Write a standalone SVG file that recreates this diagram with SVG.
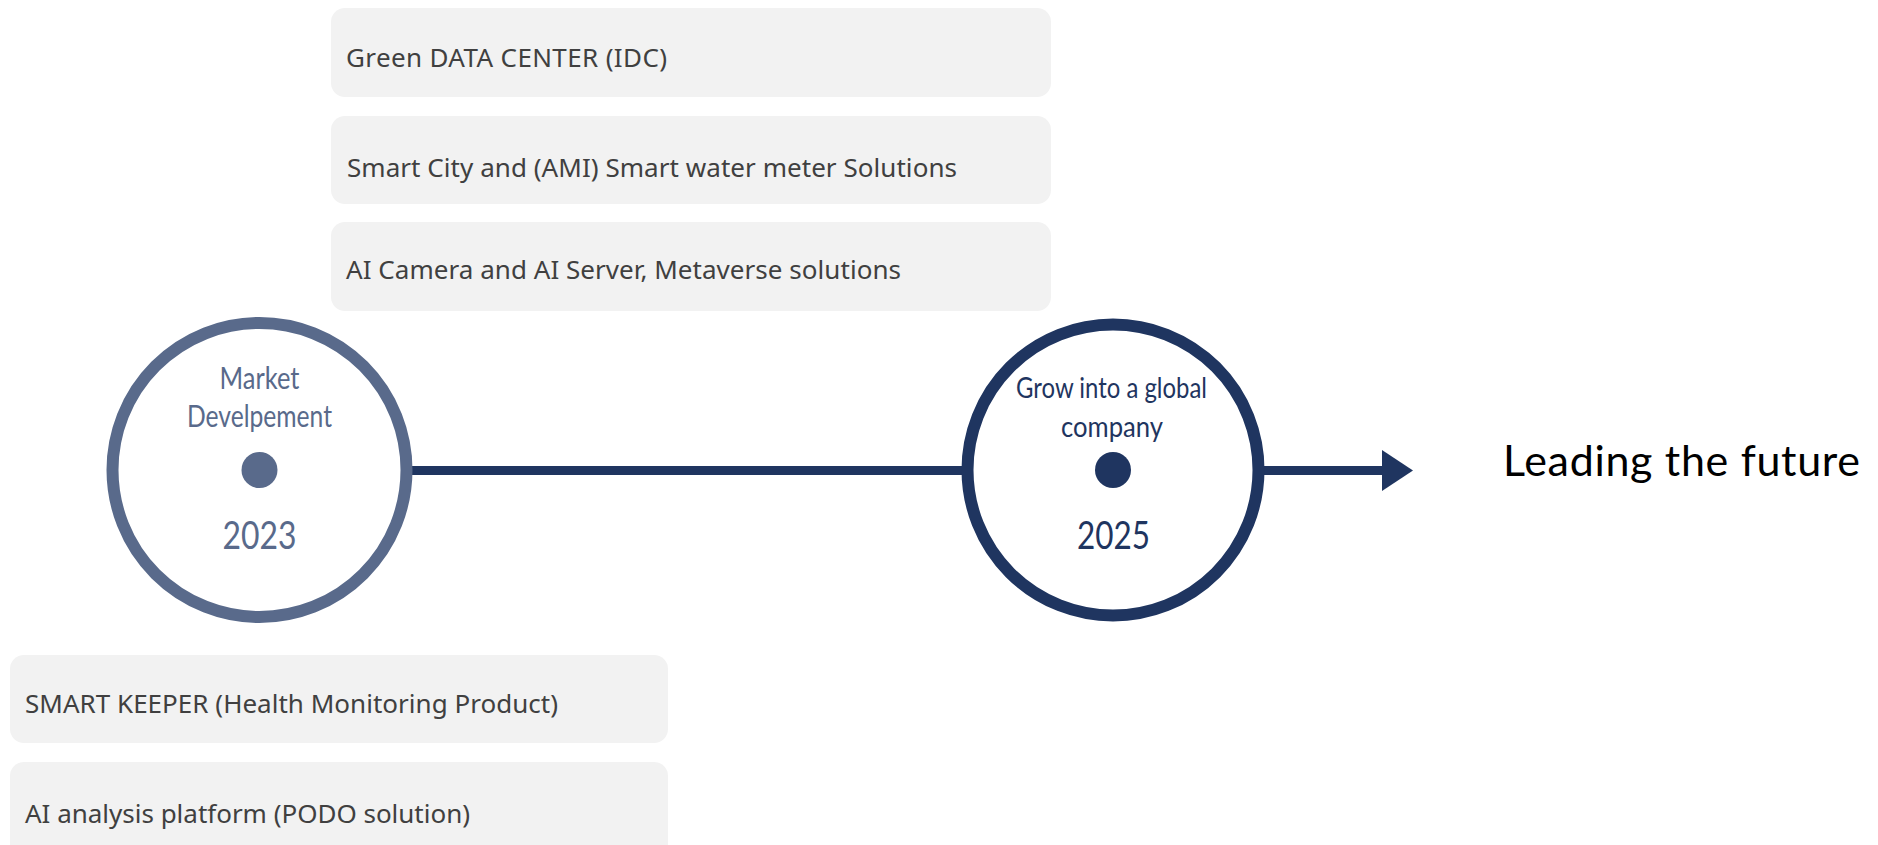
<svg xmlns="http://www.w3.org/2000/svg" width="1878" height="845" viewBox="0 0 1878 845">
<defs>
<style>
.box{fill:#F2F2F2;}
.bt{font-family:"Noto Sans","DejaVu Sans",sans-serif;font-size:26px;fill:#404040;}
.ct{font-family:Lato,"Noto Sans",sans-serif;text-anchor:middle;}
.l{fill:#596A8B;}
.r{fill:#1F3560;}
</style>
</defs>
<rect width="1878" height="845" fill="#FFFFFF"/>
<g id="connectors">
<line x1="412" y1="470.5" x2="962" y2="470.5" stroke="#1F3560" stroke-width="9"/>
<line x1="1264" y1="470.5" x2="1384" y2="470.5" stroke="#1F3560" stroke-width="9"/>
<polygon points="1382,450 1413,470.5 1382,491" fill="#1F3560"/>
</g>
<g id="box-idc">
<rect class="box" x="331" y="8" width="720" height="89" rx="14"/>
<text class="bt" x="346" y="67" textLength="321" lengthAdjust="spacing">Green DATA CENTER (IDC)</text>
</g>
<g id="box-smartcity">
<rect class="box" x="331" y="116" width="720" height="88" rx="14"/>
<text class="bt" x="347" y="177" textLength="610" lengthAdjust="spacing">Smart City and (AMI) Smart water meter Solutions</text>
</g>
<g id="box-aicamera">
<rect class="box" x="331" y="222" width="720" height="89" rx="14"/>
<text class="bt" x="346" y="279" textLength="555" lengthAdjust="spacing">AI Camera and AI Server, Metaverse solutions</text>
</g>
<g id="box-smartkeeper">
<rect class="box" x="10" y="655" width="658" height="88" rx="14"/>
<text class="bt" x="25" y="713" textLength="533" lengthAdjust="spacing">SMART KEEPER (Health Monitoring Product)</text>
</g>
<g id="box-podo">
<rect class="box" x="10" y="762" width="658" height="100" rx="14"/>
<text class="bt" x="25" y="823" textLength="445" lengthAdjust="spacing">AI analysis platform (PODO solution)</text>
</g>
<g id="node-2023">
<circle cx="259.5" cy="470" r="147" fill="#FFFFFF" stroke="#596A8B" stroke-width="12"/>
<circle cx="259.5" cy="470" r="18" fill="#596A8B"/>
<text class="ct l" x="259.5" y="389" font-size="30" textLength="80" lengthAdjust="spacingAndGlyphs">Market</text>
<text class="ct l" x="259.5" y="427" font-size="30" textLength="145" lengthAdjust="spacingAndGlyphs">Develpement</text>
<text class="ct l" x="259.5" y="549" font-size="38" textLength="74" lengthAdjust="spacingAndGlyphs">2023</text>
</g>
<g id="node-2025">
<circle cx="1113" cy="470" r="145.5" fill="#FFFFFF" stroke="#1F3560" stroke-width="12"/>
<circle cx="1113" cy="470" r="18" fill="#1F3560"/>
<text class="ct r" x="1111.5" y="398" font-size="29.5" textLength="191" lengthAdjust="spacingAndGlyphs">Grow into a global</text>
<text class="ct r" x="1112" y="437" font-size="29.5" textLength="102" lengthAdjust="spacingAndGlyphs">company</text>
<text class="ct r" x="1113.5" y="549" font-size="38" textLength="73" lengthAdjust="spacingAndGlyphs">2025</text>
</g>
<g id="label-future">
<text x="1503" y="476" font-family="Lato,'Noto Sans',sans-serif" font-size="43" fill="#000000" textLength="357" lengthAdjust="spacing">Leading the future</text>
</g>
</svg>
